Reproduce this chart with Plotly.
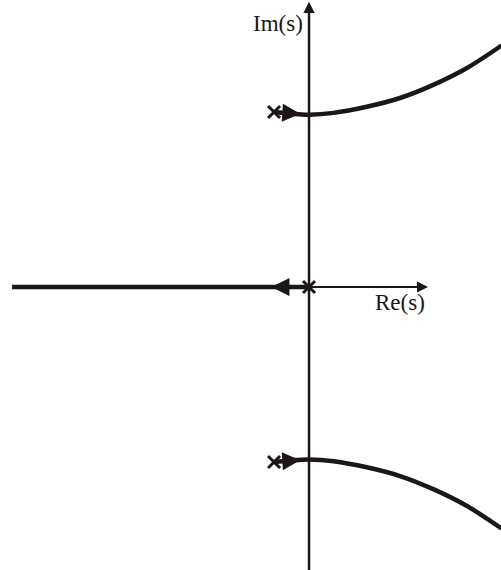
import plotly.graph_objects as go

# Open-loop poles (s-plane)
pole_re = [-0.2, 0.0, -0.2]
pole_im = [1.0, 0.0, -1.0]

# Upper complex branch of the root locus (lower branch is its mirror image)
branch_re = [-0.2, -0.1, 0.0, 0.14, 0.33, 0.52, 0.71, 0.90, 1.10]
branch_im = [1.0, 0.99, 0.985, 0.995, 1.03, 1.08, 1.155, 1.25, 1.38]

# Real-axis branch from the origin pole towards -infinity
real_re = [0.0, -1.697]
real_im = [0.0, 0.0]

INK = "#1c1616"
X_RANGE = [-1.766, 1.097]
Y_RANGE = [-1.617, 1.64]

fig = go.Figure()

# Imaginary axis
fig.add_annotation(x=0, y=1.63, ax=0, ay=Y_RANGE[0] - 0.05, xref="x", yref="y",
                   axref="x", ayref="y", text="", showarrow=True, arrowhead=2,
                   arrowsize=0.9, arrowwidth=2.5, arrowcolor=INK, standoff=0)
# Real axis (positive part; the negative part lies under the locus)
fig.add_annotation(x=0.68, y=0, ax=0, ay=0, xref="x", yref="y",
                   axref="x", ayref="y", text="", showarrow=True, arrowhead=2,
                   arrowsize=1.1, arrowwidth=2, arrowcolor=INK, standoff=0)

# Locus branches
fig.add_trace(go.Scatter(x=real_re, y=real_im, mode="lines",
                         line=dict(color=INK, width=4.5), hoverinfo="skip"))
fig.add_trace(go.Scatter(x=branch_re, y=branch_im, mode="lines",
                         line=dict(color=INK, width=4.5, shape="spline"), hoverinfo="skip"))
fig.add_trace(go.Scatter(x=branch_re, y=[-v for v in branch_im], mode="lines",
                         line=dict(color=INK, width=4.5, shape="spline"), hoverinfo="skip"))

# Direction arrows on the branches
arrows = [
    (-0.05, 0.99, -0.15, 0.996),
    (-0.05, -0.99, -0.15, -0.996),
    (-0.215, 0.0, -0.1, 0.0),
]
for hx, hy, tx, ty in arrows:
    fig.add_annotation(x=hx, y=hy, ax=tx, ay=ty, xref="x", yref="y",
                       axref="x", ayref="y", text="", showarrow=True, arrowhead=2,
                       arrowsize=0.8, arrowwidth=4.5, arrowcolor=INK, standoff=0)

# Poles
fig.add_trace(go.Scatter(x=pole_re, y=pole_im, mode="markers",
                         marker=dict(symbol="x-thin", size=12,
                                     line=dict(color=INK, width=3)),
                         hoverinfo="skip"))

# Axis labels
fig.add_annotation(x=-0.177, y=1.503, text="Im(s)", showarrow=False,
                   font=dict(family="Liberation Serif", size=23, color=INK))
fig.add_annotation(x=0.52, y=-0.091, text="Re(s)", showarrow=False,
                   font=dict(family="Liberation Serif", size=23, color=INK))

fig.update_xaxes(range=X_RANGE, visible=False)
fig.update_yaxes(range=Y_RANGE, visible=False)
fig.update_layout(width=501, height=570, margin=dict(l=0, r=0, t=0, b=0),
                  showlegend=False, plot_bgcolor="white", paper_bgcolor="white")

fig.write_html("out.html")
